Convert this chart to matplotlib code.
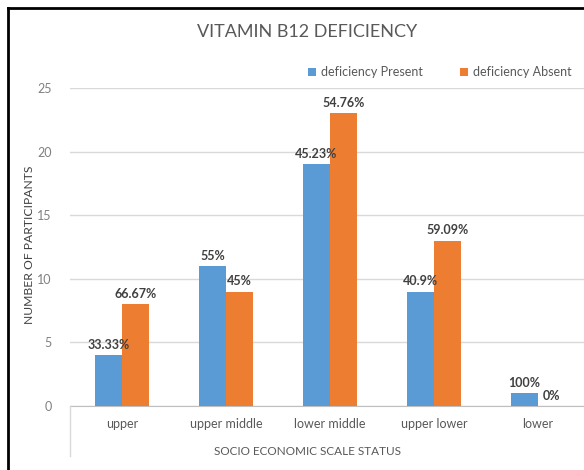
import matplotlib

matplotlib.use('Agg')
import matplotlib.pyplot as plt
import numpy as np
from matplotlib.lines import Line2D

plt.rcParams['font.family'] = ['Lato', 'DejaVu Sans']

categories = ['upper', 'upper middle', 'lower middle', 'upper lower', 'lower']
present = [4, 11, 19, 9, 1]
absent = [8, 9, 23, 13, 0]
present_pct = ['33.33%', '55%', '45.23%', '40.9%', '100%']
absent_pct = ['66.67%', '45%', '54.76%', '59.09%', '0%']

BLUE = '#5B9BD5'
ORANGE = '#ED7D31'
GRID = '#D9D9D9'
TXT = '#595959'

fig = plt.figure(figsize=(5.84, 4.70), dpi=100)
ax = fig.add_axes([70 / 584, 64 / 470, 520 / 584, 318 / 470])

x = np.arange(len(categories))
w = 0.26
b1 = ax.bar(x - w / 2, present, w, color=BLUE, label='deficiency Present', zorder=3)
b2 = ax.bar(x + w / 2, absent, w, color=ORANGE, label='deficiency Absent', zorder=3)

lab_kw = dict(padding=3, fontsize=9, fontweight='bold', color='#404040')
ax.bar_label(b1, labels=present_pct, **lab_kw)
ax.bar_label(b2, labels=absent_pct, **lab_kw)

ax.set_xlim(-0.5, 4.5)
ax.set_ylim(0, 25)
ax.set_yticks(range(0, 26, 5))
ax.set_xticks(x)
ax.set_xticklabels(categories)
ax.yaxis.grid(True, color=GRID, linewidth=1, zorder=0)
ax.tick_params(length=0, labelsize=9, colors=TXT)
ax.tick_params(axis='y', pad=13, colors='#808080')
ax.tick_params(axis='x', pad=9)
for s in ['top', 'right', 'left']:
    ax.spines[s].set_visible(False)
ax.spines['bottom'].set_color('#BFBFBF')

ax.set_ylabel('NUMBER OF PARTICIPANTS', fontsize=8.7, color='#404040')
ax.yaxis.set_label_coords((35 - 70) / 520, (406 - 245) / 318)
ax.set_xlabel('SOCIO ECONOMIC SCALE STATUS', fontsize=8.5, color=TXT)
ax.xaxis.set_label_coords((307 - 70) / 520, -40 / 318)

fig.text(307 / 584, 1 - 32 / 470, 'VITAMIN B12 DEFICIENCY', ha='center', va='center',
         fontsize=13, color=TXT)

fig.legend(handles=[b1, b2], loc='center left', bbox_to_anchor=(297 / 584, 1 - 72 / 470),
           ncol=2, frameon=False, fontsize=9, handlelength=0.6, handleheight=0.6,
           handletextpad=0.4, columnspacing=3.0, labelcolor=TXT)

# faint line under the category axis, like the source chart
fig.add_artist(Line2D([70 / 584, 70 / 584], [1 - 406 / 470, 1 - 456 / 470],
                      color=GRID, linewidth=1))
# black frame of the screenshot
fig.add_artist(Line2D([8 / 584, 8 / 584], [0, 1 - 8 / 470], color='black', linewidth=2))
fig.add_artist(Line2D([8 / 584, 1], [1 - 8 / 470, 1 - 8 / 470], color='black', linewidth=2))

fig.savefig('out.png', dpi=100)
